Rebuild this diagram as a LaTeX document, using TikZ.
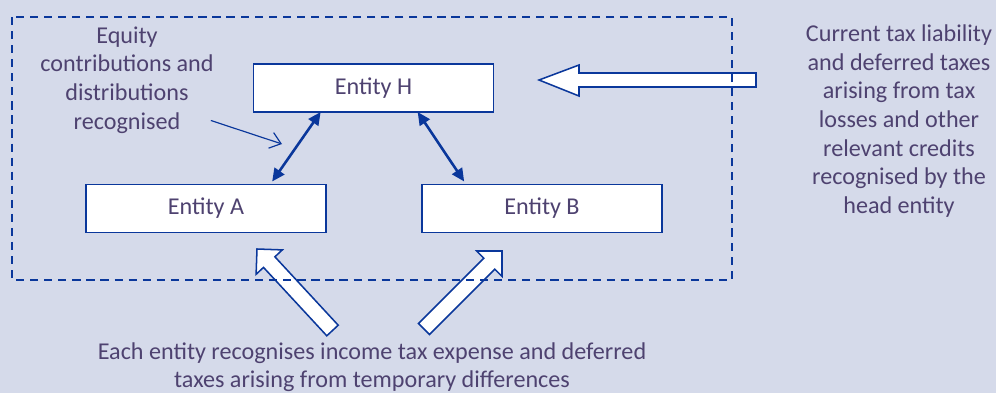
\documentclass[tikz,border=0pt]{standalone}
\usepackage{fontspec}
\setmainfont{Carlito}
\usetikzlibrary{calc,arrows.meta}
\definecolor{bgblue}{RGB}{213,218,234}
\definecolor{lineblue}{RGB}{10,55,155}
\definecolor{txtpurple}{RGB}{78,66,112}
\tikzset{entity/.style={draw=lineblue,line width=1.4pt,fill=white,minimum width=7.2cm,minimum height=1.45cm,inner sep=0pt,text=txtpurple},
	note/.style={align=center,text=txtpurple,inner sep=0pt},
	blockarrow/.style={draw=lineblue,line width=1.3pt,fill=white,line join=miter}}
\begin{document}
\begin{tikzpicture}[x=0.03cm,y=-0.03cm,font=\fontsize{20.6}{24.4}\selectfont]
	\fill[bgblue] (0,0) rectangle (996,393);
	\useasboundingbox (0,0) rectangle (996,393);
	% the three entities
	\node[entity] (H) at (373.5,88) {Entity H};
	\node[entity] (A) at (206,208.5) {Entity A};
	\node[entity] (B) at (542,208.5) {Entity B};
	% texts
	\node[note] (equity) at (127,80) {Equity\\contributions and\\distributions\\recognised};
	\node[note] (current) at (899,121) {Current tax liability\\and deferred taxes\\arising from tax\\losses and other\\relevant credits\\recognised by the\\head entity};
	\node[note] (each) at (372,367) {Each entity recognises income tax expense and deferred\\taxes arising from temporary differences};
	% block arrows
	\draw[blockarrow] (539,80) -- ++(40,-15) -- ++(0,8) -- ++(177,0) -- ++(0,14) -- ++(-177,0) -- ++(0,9) -- cycle;
	\draw[blockarrow] (257,249) -- (282.3,249.9) -- (274.9,256.8) -- (338.2,325.2) -- (326.8,335.8) -- (263.5,267.4) -- (256.1,274.3) -- cycle;
	\draw[blockarrow] (502,251) -- (502,276.4) -- (494.8,269.2) -- (429.5,334.5) -- (418.5,323.5) -- (483.8,258.2) -- (476.6,251) -- cycle;
	% group boundary
	\draw[lineblue,line width=1.4pt,dash pattern=on 7pt off 5pt] (12,17) rectangle (732,280);
	% links between entities
	\draw[lineblue,line width=2.2pt,{Triangle[length=11pt,width=10pt]}-{Triangle[length=11pt,width=10pt]}] ($(H.south west)+(68,-1)$) -- ($(A.north west)+(187,-2)$);
	\draw[lineblue,line width=2.2pt,{Triangle[length=11pt,width=10pt]}-{Triangle[length=11pt,width=10pt]}] ($(H.south west)+(165,-1)$) -- ($(B.north west)+(43,-2)$);
	\coordinate (eqtip) at (282,144);
	\draw[lineblue,line width=1pt,-{Straight Barb[length=9pt,width=14pt]}] ($(equity.south east)+(-3,-13)$) -- (eqtip);
\end{tikzpicture}
\end{document}
